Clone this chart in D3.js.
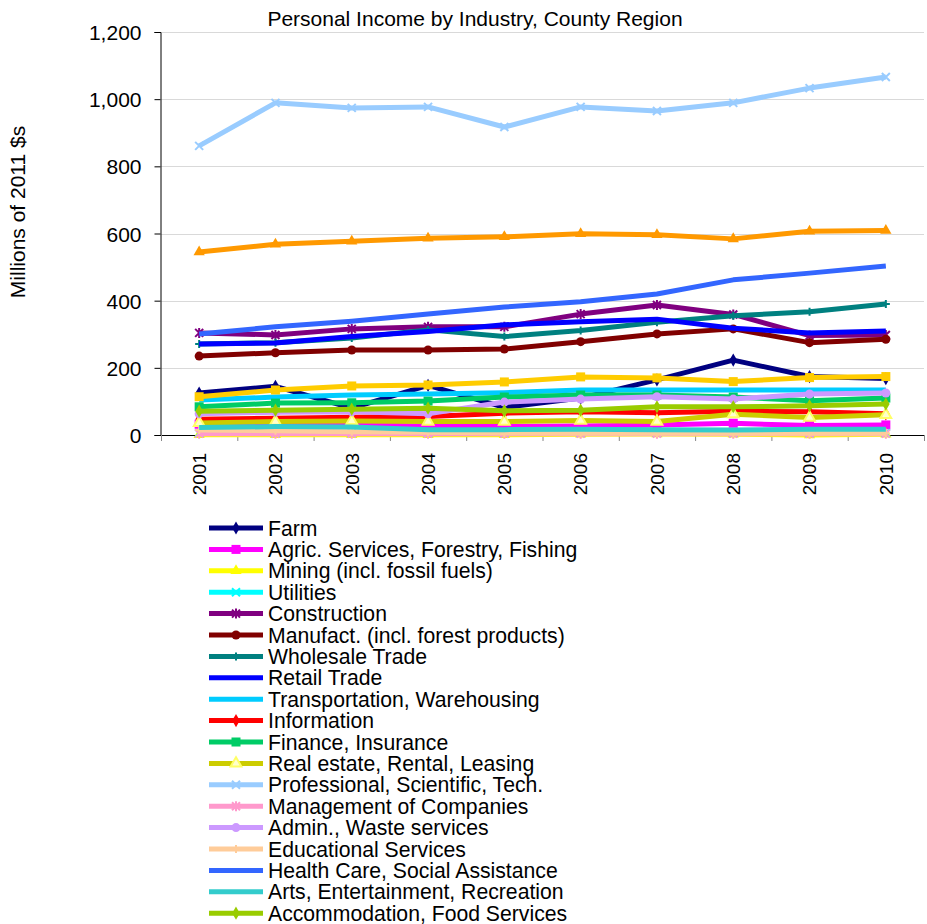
<!DOCTYPE html>
<html lang="en">
<head>
<meta charset="utf-8">
<title>Personal Income by Industry, County Region</title>
<script src="https://d3js.org/d3.v7.min.js"></script>
<style>
    body { margin: 0; background: #fff; }
    svg { display: block; font-family: "Liberation Sans", Arial, sans-serif; }
    .grid line { stroke: #d9d9d9; stroke-width: 1; }
    .axis path, .axis line { stroke: #000; }
    .axis text { font-size: 21px; fill: #000; }
    .legend text { font-size: 21.2px; fill: #000; }
</style>
</head>
<body>
<svg id="chart" width="927" height="924"></svg>
<script>

//_____________________________DATA_____________________________
var years = ["2001","2002","2003","2004","2005","2006","2007","2008","2009","2010"];
var yTicks = [0, 200, 400, 600, 800, 1000, 1200];

var farm          = [125, 145,  80, 148,  82, 110, 164, 223, 174, 168];
var agric         = [ 32,  30,  33,  25,  25,  27,  30,  35,  28,  30];
var mining        = [  1,   1,   1,   1,   1,   2,   3,   2,   0,   2];
var utilities     = [  5,   5,   5,   5,   5,   6,   6,   5,   5,   5];
var construction  = [304, 298, 316, 322, 322, 360, 387, 359, 296, 298];
var manufact      = [235, 245, 253, 253, 256, 278, 301, 316, 275, 285];
var wholesale     = [271, 275, 289, 313, 293, 311, 336, 355, 367, 390];
var retail        = [271, 274, 293, 308, 328, 337, 345, 318, 304, 310];
var transport     = [104, 113, 119, 122, 126, 134, 134, 134, 134, 134];
var information   = [ 47,  50,  53,  55,  65,  69,  66,  71,  69,  63];
var finance       = [ 84,  95,  96, 101, 113, 119, 119, 113, 102, 110];
var realEstate    = [ 36,  40,  42,  40,  40,  43,  40,  62,  52,  60];
var professional  = [861, 989, 974, 977, 917, 977, 965, 989,1033,1066];
var management    = [  4,   4,   4,   4,   4,   4,   4,   4,   4,   4];
var admin         = [ 63,  68,  69,  63,  98, 107, 114, 107, 122, 125];
var educational   = [ 15,  13,  10,   8,   6,   5,   5,   5,   5,   5];
var health        = [301, 322, 339, 360, 381, 397, 420, 462, 482, 503];
var arts          = [ 22,  25,  24,  16,  16,  17,  16,  15,  17,  17];
var accommodation = [ 71,  74,  77,  80,  72,  74,  84,  84,  87,  92];
var otherServices = [114, 134, 146, 149, 158, 173, 170, 159, 171, 174];
var government    = [545, 568, 577, 586, 590, 599, 596, 584, 607, 609];

var names = ["Farm", "Agric. Services, Forestry, Fishing", "Mining (incl. fossil fuels)",
    "Utilities", "Construction", "Manufact. (incl. forest products)", "Wholesale Trade",
    "Retail Trade", "Transportation, Warehousing", "Information", "Finance, Insurance",
    "Real estate, Rental, Leasing", "Professional, Scientific, Tech.",
    "Management of Companies", "Admin., Waste services", "Educational Services",
    "Health Care, Social Assistance", "Arts, Entertainment, Recreation",
    "Accommodation, Food Services", "Other Services", "Government"];

var values = [farm, agric, mining, utilities, construction, manufact, wholesale, retail,
    transport, information, finance, realEstate, professional, management, admin,
    educational, health, arts, accommodation, otherServices, government];

//_____________________________STYLE_____________________________
var colors = ["#000080", "#ff00ff", "#ffff00", "#00ffff", "#800080", "#800000", "#008080",
    "#0000ff", "#00ccff", "#ff0000", "#00cc66", "#cccc00", "#99ccff", "#ff99cc",
    "#cc99ff", "#ffcc99", "#3366ff", "#33cccc", "#99cc00", "#ffcc00", "#ff9900"];
var markers = ["diamond", "square", "triangle", "x", "star", "circle", "plus", "none",
    "none", "diamond", "square", "triangleOpen", "x", "star", "circle", "plus", "none",
    "none", "diamond", "square", "triangle"];

var series = names.map(function (n, i) {
    return { name: n, color: colors[i], marker: markers[i],
        points: years.map(function (y, j) { return { year: y, value: values[i][j] }; }) };
});

//_____________________________SCALES_____________________________
var svg = d3.select("#chart");
var plotLeft = 161, plotRight = 924, plotTop = 32, plotBottom = 435;

var x = d3.scaleBand().domain(years).range([plotLeft, plotRight]);
var y = d3.scaleLinear().domain([0, 1200]).range([plotBottom, plotTop]);
var cx = function (d) { return x(d) + x.bandwidth() / 2; };

// gridlines
svg.append("g").attr("class", "grid")
    .selectAll("line").data(yTicks.filter(function (t) { return t > 0; }))
    .enter().append("line")
    .attr("x1", plotLeft).attr("x2", plotRight)
    .attr("y1", function (d) { return Math.round(y(d)) + 0.5; })
    .attr("y2", function (d) { return Math.round(y(d)) + 0.5; });

// y axis
var yAxis = d3.axisLeft(y).tickValues(yTicks).tickSize(6).tickPadding(13)
    .tickFormat(d3.format(","));
svg.append("g").attr("class", "axis")
    .attr("transform", "translate(" + (plotLeft - 0.5) + ",0)")
    .call(yAxis)
    .call(function (g) { g.selectAll("text").attr("dy", "0.36em"); });

// x axis: line, ticks between categories, rotated labels
var xg = svg.append("g").attr("class", "axis");
xg.append("line").attr("x1", plotLeft).attr("x2", plotRight)
    .attr("y1", plotBottom + 0.5).attr("y2", plotBottom + 0.5);
xg.selectAll(".tk").data(years.concat(["end"])).enter().append("line")
    .attr("class", "tk")
    .attr("x1", function (d, i) { return plotLeft + i * x.step() + 0.5; })
    .attr("x2", function (d, i) { return plotLeft + i * x.step() + 0.5; })
    .attr("y1", plotBottom).attr("y2", plotBottom + 6)
    .style("stroke", "#888");
xg.selectAll(".lbl").data(years).enter().append("text")
    .attr("class", "lbl")
    .attr("transform", function (d) { return "translate(" + cx(d) + "," + 453 + ") rotate(-90)"; })
    .attr("text-anchor", "end")
    .attr("dy", "0.36em")
    .style("font-size", "19px")
    .text(function (d) { return d; });

// titles
svg.append("text").attr("x", 475).attr("y", 26).attr("text-anchor", "middle")
    .style("font-size", "21px").text("Personal Income by Industry, County Region");
svg.append("text").attr("transform", "translate(25,212) rotate(-90)")
    .attr("text-anchor", "middle").style("font-size", "21px")
    .text("Millions of 2011 $s");

//_____________________________MARKERS_____________________________
function drawMarker(g, type, color, px, py) {
    var s = 4.5;
    if (type === "none") return;
    if (type === "circle") {
        g.append("circle").attr("cx", px).attr("cy", py).attr("r", s).attr("fill", color);
    } else if (type === "square") {
        g.append("rect").attr("x", px - s).attr("y", py - s).attr("width", 2 * s)
            .attr("height", 2 * s).attr("fill", color);
    } else if (type === "diamond") {
        g.append("path").attr("d", d3.symbol(d3.symbolDiamond, 50)())
            .attr("transform", "translate(" + px + "," + py + ")").attr("fill", color);
    } else if (type === "triangle") {
        g.append("path").attr("d", d3.symbol(d3.symbolTriangle, 55)())
            .attr("transform", "translate(" + px + "," + py + ")").attr("fill", color);
    } else if (type === "triangleOpen") {
        g.append("path").attr("d", d3.symbol(d3.symbolTriangle, 50)())
            .attr("transform", "translate(" + px + "," + py + ")")
            .attr("fill", "#ffffcc").attr("stroke", "#ffff66").attr("stroke-width", 2);
    } else if (type === "x") {
        g.append("path").attr("d", "M-4,-4L4,4M-4,4L4,-4")
            .attr("transform", "translate(" + px + "," + py + ")")
            .attr("stroke", color).attr("stroke-width", 2);
    } else if (type === "star") {
        g.append("path").attr("d", "M-4,-4L4,4M-4,4L4,-4M0,-5L0,5")
            .attr("transform", "translate(" + px + "," + py + ")")
            .attr("stroke", color).attr("stroke-width", 2);
    } else if (type === "plus") {
        g.append("path").attr("d", "M-4,0L4,0M0,-4L0,4")
            .attr("transform", "translate(" + px + "," + py + ")")
            .attr("stroke", color).attr("stroke-width", 2);
    }
}

//_____________________________LINES_____________________________
var line = d3.line()
    .x(function (d) { return cx(d.year); })
    .y(function (d) { return y(d.value); });

series.forEach(function (s) {
    var g = svg.append("g");
    g.append("path").datum(s.points)
        .attr("d", line)
        .attr("fill", "none")
        .attr("stroke", s.color)
        .attr("stroke-width", 5)
        .attr("stroke-linejoin", "round");
    s.points.forEach(function (p) {
        drawMarker(g, s.marker, s.color, cx(p.year), y(p.value));
    });
});

//_____________________________LEGEND_____________________________
// the last two entries fall below the picture's edge, as in the original
var leg = svg.append("g").attr("class", "legend");
series.forEach(function (s, i) {
    var ly = 528 + i * 21.4;
    var g = leg.append("g");
    g.append("line").attr("x1", 209).attr("x2", 263).attr("y1", ly).attr("y2", ly)
        .attr("stroke", s.color).attr("stroke-width", 5);
    drawMarker(g, s.marker, s.color, 236, ly);
    g.append("text").attr("x", 268).attr("y", ly + 7.5).text(s.name);
});

</script>
</body>
</html>
